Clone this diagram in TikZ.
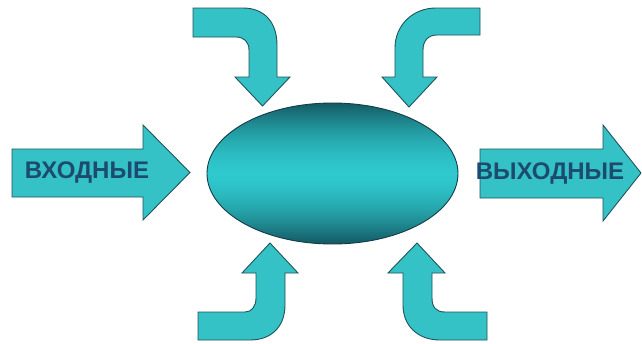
\documentclass[tikz,border=0pt]{standalone}
\usepackage{fontspec}
\setmainfont{Liberation Sans}
\usetikzlibrary{shapes.geometric}
\definecolor{arrowfill}{RGB}{52,194,198}
\definecolor{arrowline}{RGB}{32,84,92}
\definecolor{ovaldark}{RGB}{20,88,98}
\definecolor{ovallight}{RGB}{46,200,205}
\definecolor{ovalline}{RGB}{18,62,72}
\definecolor{labelblue}{RGB}{28,74,112}
\begin{document}
\begin{tikzpicture}[x=1pt,y=-1pt,
  bigarrow/.style={fill=arrowfill,draw=arrowline,line width=0.9pt,line join=miter},
  label/.style={text=labelblue,font=\fontsize{24}{26}\selectfont\bfseries,inner sep=0pt}]
\useasboundingbox[fill=white] (0,0) rectangle (642,343);
% central oval with vertical gradient built from bands
\begin{scope}
  \clip (332.5,173.5) ellipse [x radius=125.5pt, y radius=70.5pt];
  \foreach \i in {0,...,72} {
    \pgfmathsetmacro\yy{102+2*\i}
    \pgfmathsetmacro\tt{(\yy+1-173.5)/70.5}
    \pgfmathsetmacro\pp{max(0,min(100,100*(1-abs(\tt)^1.7)))}
    \fill[ovallight!\pp!ovaldark] (200,\yy) rectangle (465,\yy+2.3);
  }
\end{scope}
\node[ellipse,draw=ovalline,line width=0.9pt,minimum width=251pt,minimum height=141pt,inner sep=0pt] (core) at (332.5,173.5) {};
% left straight arrow
\path[bigarrow] (12,149) -- (143,149) -- (143,125) -- (190,172.5) -- (143,220) -- (143,197) -- (12,197) -- cycle;
% right straight arrow
\path[bigarrow] (480,149) -- (603,149) -- (603,125) -- (641,173) -- (603,221) -- (603,198) -- (480,198) -- cycle;
% top-left bent arrow
\path[bigarrow] (193,8) -- (243,8) .. controls (264,8) and (277,22) .. (277,45) -- (277,77) -- (290,77) -- (262.5,106)
  -- (235,77) -- (249,77) -- (249,50) .. controls (249,42) and (244,37) .. (236,37) -- (193,37) -- cycle;
% top-right bent arrow
\path[bigarrow] (480,8) -- (436,8) .. controls (413,8) and (395,25) .. (395,48) -- (395,77) -- (382,77) -- (409,107)
  -- (437,77) -- (423,77) -- (423,50) .. controls (423,41) and (428,35) .. (437,35) -- (480,35) -- cycle;
% bottom-left bent arrow
\path[bigarrow] (270,243) -- (298,273) -- (285,273) -- (285,305) .. controls (285,326) and (272,340) .. (250,340)
  -- (198,340) -- (198,312) -- (245,312) .. controls (252,312) and (256,306) .. (256,298) -- (256,273) -- (242,273) -- cycle;
% bottom-right bent arrow
\path[bigarrow] (417,243) -- (445,273) -- (432,273) -- (432,298) .. controls (432,307) and (436,312) .. (445,312)
  -- (487,312) -- (487,340) -- (440,340) .. controls (418,340) and (403,326) .. (403,305) -- (403,273) -- (388,273) -- cycle;
% labels
\node[label] (inlabel) at (87,173) {ВХОДНЫЕ};
\node[label] (outlabel) at (550,174) {ВЫХОДНЫЕ};
\end{tikzpicture}
\end{document}
